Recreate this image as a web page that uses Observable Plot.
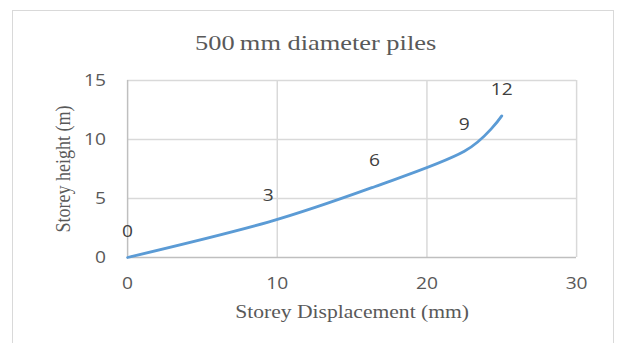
<!DOCTYPE html>
<html>
<head>
<meta charset="utf-8">
<script src="https://cdn.jsdelivr.net/npm/d3@7"></script>
<script src="https://cdn.jsdelivr.net/npm/@observablehq/plot@0.6"></script>
<style>
  html, body { margin: 0; padding: 0; background: #fff; }
  #wrap { position: relative; width: 617px; height: 343px; overflow: hidden; }
  #frame { position: absolute; left: 12px; top: 10px; width: 602px; height: 360px; border: 1.5px solid #d9d9d9; box-sizing: border-box; }
  #chart { position: absolute; left: 0; top: 0; }
</style>
</head>
<body>
<div id="wrap"><div id="frame"></div><div id="chart"></div></div>
<script>
// Data
const storeys = [0, 3, 6, 9, 12];                  // storey height (m)
const displacement = [0, 9.4, 16.5, 22.5, 25.0];   // storey displacement (mm)
const labels = ["0", "3", "6", "9", "12"];
const xTicks = [0, 10, 20, 30];
const yTicks = [0, 5, 10, 15];
const titleText = "500\u2009mm diameter piles";
const xTitle = "Storey Displacement (mm)";
const yTitle = "Storey height (m)";

const data = storeys.map((h, i) => ({x: displacement[i], y: h, label: labels[i]}));

const S = 1.2;           // horizontal stretch of the reference image
const W = 617, H = 343;
const w = W / S;

const tickFont = "'Open Sans', sans-serif";
const serif = "'Liberation Serif', 'Times New Roman', serif";

const plot = Plot.plot({
  width: w,
  height: H,
  marginLeft: 127 / S,
  marginRight: (W - 576) / S,
  marginTop: 80,
  marginBottom: H - 257,
  style: {background: "transparent", overflow: "visible"},
  x: {domain: [0, 30], ticks: xTicks},
  y: {domain: [0, 15], ticks: yTicks},
  marks: [
    Plot.gridX(xTicks.filter(d => d > 0), {stroke: "#d9d9d9", strokeOpacity: 1, strokeWidth: 1.5}),
    Plot.gridY(yTicks.filter(d => d > 0), {stroke: "#d9d9d9", strokeOpacity: 1, strokeWidth: 1.5}),
    Plot.ruleX([0], {stroke: "#bfbfbf", strokeWidth: 1.5}),
    Plot.ruleY([0], {stroke: "#bfbfbf", strokeWidth: 1.5}),
    Plot.axisX(xTicks, {tickSize: 0, tickPadding: 20, fontSize: 16, fontFamily: tickFont, fill: "#595959", label: null}),
    Plot.axisY(yTicks, {tickSize: 0, tickPadding: 18, fontSize: 16, fontFamily: tickFont, fill: "#595959", label: null}),
    Plot.line(data, {x: "x", y: "y", curve: "cardinal", stroke: "#5b9bd5", strokeWidth: 2.8}),
    Plot.text(data, {x: "x", y: "y", text: "label", dy: -26, fontSize: 16, fontFamily: tickFont, fill: "#404040"}),
    Plot.text([titleText], {frameAnchor: "top-left", dx: 315 / S - 127 / S, dy: -38, textAnchor: "middle", lineAnchor: "middle", fontSize: 22, fontFamily: serif, fill: "#595959"}),
    Plot.text([xTitle], {frameAnchor: "bottom", dy: 55, lineAnchor: "middle", fontSize: 18, fontFamily: serif, fill: "#595959"}),
    Plot.text([yTitle], {frameAnchor: "left", dx: 62 / S - 127 / S, rotate: -90, lineAnchor: "middle", textAnchor: "middle", fontSize: 18, fontFamily: serif, fill: "#595959"})
  ]
});

plot.setAttribute("width", W);
plot.setAttribute("height", H);
plot.setAttribute("preserveAspectRatio", "none");
plot.style.width = W + "px";
plot.style.height = H + "px";
plot.style.maxWidth = "none";
plot.querySelectorAll("line, path").forEach(el => el.setAttribute("vector-effect", "non-scaling-stroke"));
document.getElementById("chart").appendChild(plot);
</script>
</body>
</html>
